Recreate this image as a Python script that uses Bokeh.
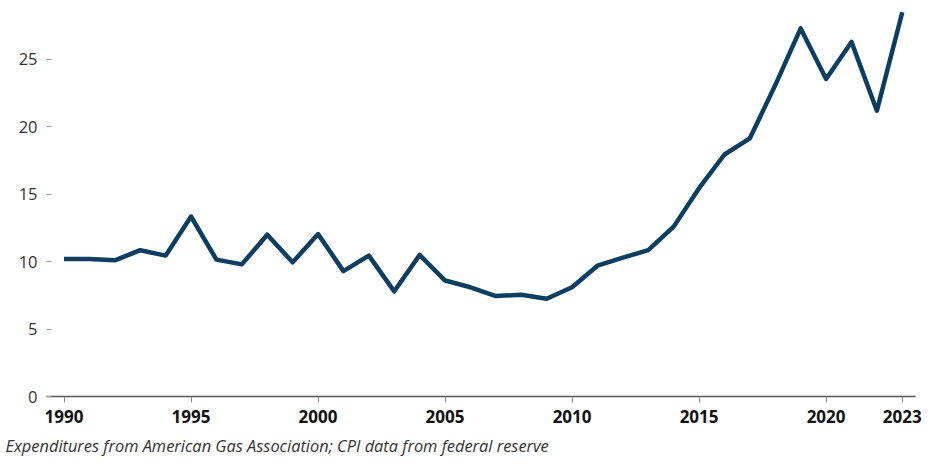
from bokeh.plotting import figure
from bokeh.models import FixedTicker, Title, Range1d
from bokeh.embed import file_html
from bokeh.resources import INLINE

years = list(range(1990, 2024))
values = [10.2, 10.2, 10.1, 10.85, 10.45, 13.35, 10.15, 9.8, 12.0, 9.95,
          12.05, 9.3, 10.45, 7.8, 10.5, 8.6, 8.1, 7.45, 7.55, 7.25,
          8.1, 9.7, 10.3, 10.85, 12.6, 15.45, 17.95, 19.15, 23.1, 27.3,
          23.55, 26.3, 21.2, 28.5]
x_ticks = [1990, 1995, 2000, 2005, 2010, 2015, 2020, 2023]
y_ticks = [0, 5, 10, 15, 20, 25]
caption = "Expenditures from American Gas Association; CPI data from federal reserve"

FONT = "Open Sans"

p = figure(width=940, height=473, output_backend="svg", toolbar_location=None,
           x_range=Range1d(1989.31, 2023.52), y_range=Range1d(0, 29.0),
           min_border_left=46, min_border_right=25, min_border_top=5,
           min_border_bottom=77)
p.outline_line_color = None
p.grid.grid_line_color = None
p.background_fill_color = "white"
p.border_fill_color = "white"

p.line(years, values, line_color="#0c3e62", line_width=4.5, line_join="round")

xa = p.xaxis[0]
xa.ticker = FixedTicker(ticks=x_ticks)
xa.minor_tick_line_color = None
xa.axis_line_color = "#555555"
xa.axis_line_width = 1.3
xa.major_tick_line_color = "#888888"
xa.major_tick_out = 6
xa.major_tick_in = 0
xa.major_label_standoff = 7
xa.major_label_text_font = FONT
xa.major_label_text_font_style = "bold"
xa.major_label_text_font_size = "17px"
xa.major_label_text_color = "#111111"

ya = p.yaxis[0]
ya.ticker = FixedTicker(ticks=y_ticks)
ya.minor_tick_line_color = None
ya.axis_line_color = None
ya.major_tick_line_color = "#999999"
ya.major_tick_out = 0
ya.major_tick_in = 5
ya.major_label_standoff = 9
ya.major_label_text_font = FONT
ya.major_label_text_font_size = "16.5px"
ya.major_label_text_color = "#333333"

t = Title(text=caption, align="left", offset=-41, text_font=FONT,
          text_font_style="italic", text_font_size="16.4px",
          text_color="#333333", standoff=13)
p.add_layout(t, "below")

open("out.html", "w").write(file_html(p, INLINE))
